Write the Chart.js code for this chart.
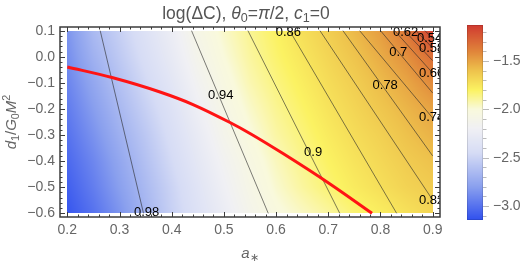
<!DOCTYPE html>
<html>
<head>
<meta charset="utf-8">
<script src="https://cdn.jsdelivr.net/npm/chart.js@4.4.1/dist/chart.umd.min.js"></script>
<style>
    html, body { margin: 0; padding: 0; background: #fff; }
    #wrap { position: relative; width: 529px; height: 264px; }
    #main { position: absolute; left: 0; top: 0; }
    #bar { position: absolute; left: 440px; top: 0; }
</style>
</head>
<body>
<div id="wrap">
    <canvas id="main" width="529" height="264"></canvas>
    <canvas id="bar" width="89" height="264"></canvas>
</div>
<script>
// ==========================
// DATA
// ==========================

const xTicks = [0.2, 0.3, 0.4, 0.5, 0.6, 0.7, 0.8, 0.9];
const yTicks = [0.1, 0.0, -0.1, -0.2, -0.3, -0.4, -0.5, -0.6];
const barTicks = [-3.0, -2.5, -2.0, -1.5];

// log(ΔC) sampled on a grid: columns are a*, rows are d1/G0M^2 from top to bottom
const gridA = [0.2, 0.25, 0.3, 0.35, 0.4, 0.45, 0.5, 0.55, 0.6, 0.65, 0.7, 0.75, 0.8, 0.85, 0.9];
const gridD = [0.1, 0.0, -0.1, -0.2, -0.3, -0.4, -0.5, -0.6];
const row01  = [-2.85, -2.65, -2.52, -2.38, -2.24, -2.08, -1.97, -1.88, -1.80, -1.72, -1.65, -1.57, -1.48, -1.35, -1.15];
const row00  = [-2.88, -2.70, -2.56, -2.42, -2.28, -2.12, -2.00, -1.90, -1.82, -1.75, -1.68, -1.61, -1.53, -1.44, -1.32];
const rowM01 = [-2.92, -2.76, -2.61, -2.47, -2.33, -2.17, -2.04, -1.93, -1.85, -1.78, -1.71, -1.65, -1.58, -1.51, -1.42];
const rowM02 = [-2.96, -2.81, -2.66, -2.52, -2.38, -2.22, -2.08, -1.97, -1.88, -1.81, -1.74, -1.68, -1.62, -1.56, -1.50];
const rowM03 = [-3.00, -2.86, -2.71, -2.57, -2.42, -2.27, -2.12, -2.01, -1.91, -1.84, -1.77, -1.71, -1.66, -1.60, -1.55];
const rowM04 = [-3.04, -2.91, -2.76, -2.61, -2.46, -2.31, -2.17, -2.05, -1.95, -1.87, -1.80, -1.74, -1.69, -1.64, -1.60];
const rowM05 = [-3.08, -2.95, -2.80, -2.65, -2.50, -2.35, -2.21, -2.08, -1.98, -1.90, -1.83, -1.77, -1.72, -1.67, -1.64];
const rowM06 = [-3.12, -3.00, -2.85, -2.68, -2.52, -2.38, -2.25, -2.12, -2.02, -1.96, -1.90, -1.83, -1.78, -1.73, -1.68];

// contour lines: where each one leaves the top edge, and where it ends (bottom or right edge)
const contourLevels = ["0.98", "0.94", "0.9", "0.86", "0.82", "0.78", "0.74", "0.7", "0.66", "0.62", "0.58", "0.54"];
const contourTopA = [0.263, 0.438, 0.546, 0.626, 0.684, 0.728, 0.760, 0.800, 0.827, 0.846, 0.868, 0.885];
const contourEndA = [0.346, 0.585, 0.722, 0.831, 0.9, 0.9, 0.9, 0.9, 0.9, 0.9, 0.9, 0.9];
const contourEndD = [-0.6, -0.6, -0.6, -0.6, -0.549, -0.38, -0.235, -0.139, -0.0625, -0.015, 0.033, 0.07];
const labelA = [0.352, 0.494, 0.671, 0.6235, 0.898, 0.809, 0.898, 0.834, 0.898, 0.848, 0.898, 0.894];
const labelD = [-0.595, -0.147, -0.365, 0.0946, -0.549, -0.108, -0.231, 0.018, -0.0625, 0.0946, 0.033, 0.0716];

// the red curve
const curveA = [0.2, 0.2856, 0.3776, 0.4408, 0.5117, 0.55, 0.6133, 0.7033, 0.7838];
const curveD = [-0.039, -0.0795, -0.135, -0.183, -0.252, -0.294, -0.371, -0.4875, -0.6];

const logDC = [row01, row00, rowM01, rowM02, rowM03, rowM04, rowM05, rowM06];

// ==========================
// STYLE
// ==========================

const fontFamily = "'Liberation Sans', Arial, sans-serif";
const axisGray = "#666";
const frameColor = "#3c3c3c";

// x/y ranges include Mathematica's small padding round the data
const xMin = 0.186, xMax = 0.914;
const yMin = -0.614, yMax = 0.114;
const barMin = -3.145, barMax = -1.128;

// colour scheme (blue -> white -> yellow -> orange -> red)
const cmapVals = [-3.145, -2.8, -2.45, -2.2, -2.0, -1.8, -1.6, -1.4, -1.128];
const cmapCols = ["#3050ee", "#8aa0ee", "#d6dcf5", "#f0f0f4", "#f9f9dc", "#fbf262", "#eec24c", "#e0843a", "#d03a30"];

function hexToRgb(h) {
    return [parseInt(h.slice(1, 3), 16), parseInt(h.slice(3, 5), 16), parseInt(h.slice(5, 7), 16)];
}
const cmapRgb = cmapCols.map(hexToRgb);

function colorFor(v) {
    if (v <= cmapVals[0]) return cmapRgb[0];
    for (let k = 1; k < cmapVals.length; k++) {
        if (v <= cmapVals[k]) {
            const t = (v - cmapVals[k - 1]) / (cmapVals[k] - cmapVals[k - 1]);
            const c0 = cmapRgb[k - 1], c1 = cmapRgb[k];
            return [c0[0] + (c1[0] - c0[0]) * t, c0[1] + (c1[1] - c0[1]) * t, c0[2] + (c1[2] - c0[2]) * t];
        }
    }
    return cmapRgb[cmapRgb.length - 1];
}

// shade between grid samples (like a density plot does)
function sampleField(a, d) {
    const nA = gridA.length, nD = gridD.length;
    const fi = Math.min(Math.max((a - gridA[0]) / (gridA[1] - gridA[0]), 0), nA - 1);
    const fj = Math.min(Math.max((gridD[0] - d) / (gridD[0] - gridD[1]), 0), nD - 1);
    const i0 = Math.min(Math.floor(fi), nA - 2);
    const j0 = Math.min(Math.floor(fj), nD - 2);
    const tx = fi - i0, ty = fj - j0;
    const top = logDC[j0][i0] * (1 - tx) + logDC[j0][i0 + 1] * tx;
    const bot = logDC[j0 + 1][i0] * (1 - tx) + logDC[j0 + 1][i0 + 1] * tx;
    return top * (1 - ty) + bot * ty;
}

function fmt(v) {
    return v.toFixed(1).replace("-", "\u2212");
}

function minorTicks(majors, lo, hi) {
    const step = (majors[1] - majors[0]) / 5;
    const out = [];
    for (let v = majors[0] - step; v >= lo - 1e-9; v -= step) out.push(v);
    for (let k = 0; k < majors.length - 1; k++) {
        for (let m = 1; m < 5; m++) out.push(majors[k] + (majors[k + 1] - majors[k]) * m / 5);
    }
    const last = majors[majors.length - 1];
    for (let v = last + step; v <= hi + 1e-9; v += step) out.push(v);
    return out;
}

// draws text pieces: {t, it (italic), pos: 'sub' | 'sup' | undefined}
function drawRich(ctx, parts, size, cx, baseline) {
    const fontOf = (p) => {
        const s = p.pos ? size * 0.72 : size;
        return (p.it ? "italic " : "") + s + "px " + fontFamily;
    };
    let total = 0;
    parts.forEach(p => { ctx.font = fontOf(p); total += ctx.measureText(p.t).width; });
    let x = cx - total / 2;
    ctx.textAlign = "left";
    ctx.textBaseline = "alphabetic";
    parts.forEach(p => {
        ctx.font = fontOf(p);
        let dy = 0;
        if (p.pos === "sub") dy = size * 0.22;
        if (p.pos === "sup") dy = -size * 0.38;
        ctx.fillText(p.t, x, baseline + dy);
        x += ctx.measureText(p.t).width;
    });
}

// ==========================
// PLUGINS
// ==========================

const densityPlugin = {
    id: "density",
    beforeDatasetsDraw(chart) {
        const { ctx, scales: { x, y } } = chart;
        const x0 = Math.round(x.getPixelForValue(gridA[0]));
        const x1 = Math.round(x.getPixelForValue(gridA[gridA.length - 1]));
        const y0 = Math.round(y.getPixelForValue(gridD[0]));
        const y1 = Math.round(y.getPixelForValue(gridD[gridD.length - 1]));
        const w = x1 - x0, h = y1 - y0;
        const off = document.createElement("canvas");
        off.width = w;
        off.height = h;
        const octx = off.getContext("2d");
        const img = octx.createImageData(w, h);
        for (let j = 0; j < h; j++) {
            const d = y.getValueForPixel(y0 + j + 0.5);
            for (let i = 0; i < w; i++) {
                const a = x.getValueForPixel(x0 + i + 0.5);
                const c = colorFor(sampleField(a, d));
                const p = (j * w + i) * 4;
                img.data[p] = c[0];
                img.data[p + 1] = c[1];
                img.data[p + 2] = c[2];
                img.data[p + 3] = 255;
            }
        }
        octx.putImageData(img, 0, 0);
        ctx.drawImage(off, x0, y0);
    },
    afterDatasetsDraw(chart) {
        // contour labels, clipped at the frame
        const { ctx, chartArea: ca, scales: { x, y } } = chart;
        ctx.save();
        ctx.beginPath();
        ctx.rect(ca.left, ca.top, ca.right - ca.left, ca.bottom - ca.top);
        ctx.clip();
        ctx.fillStyle = "#000";
        ctx.font = "13px " + fontFamily;
        ctx.textAlign = "center";
        ctx.textBaseline = "middle";
        contourLevels.forEach((lv, k) => {
            ctx.fillText(lv, x.getPixelForValue(labelA[k]), y.getPixelForValue(labelD[k]));
        });
        ctx.restore();
    }
};

const framePlugin = {
    id: "frame",
    afterDraw(chart) {
        const { ctx, chartArea: ca, scales: { x, y } } = chart;
        ctx.save();
        ctx.strokeStyle = frameColor;
        ctx.lineWidth = 1;
        const tick = (x1, y1, x2, y2) => {
            ctx.beginPath();
            ctx.moveTo(x1, y1);
            ctx.lineTo(x2, y2);
            ctx.stroke();
        };
        const xs = [[xTicks, 5], [minorTicks(xTicks, xMin, xMax), 2.5]];
        xs.forEach(([vals, len]) => vals.forEach(v => {
            const px = Math.round(x.getPixelForValue(v)) + 0.5;
            tick(px, ca.bottom, px, ca.bottom - len);
            tick(px, ca.top, px, ca.top + len);
        }));
        const ys = [[yTicks, 5], [minorTicks(yTicks.slice().reverse(), yMin, yMax), 2.5]];
        ys.forEach(([vals, len]) => vals.forEach(v => {
            const py = Math.round(y.getPixelForValue(v)) + 0.5;
            tick(ca.left, py, ca.left + len, py);
            tick(ca.right, py, ca.right - len, py);
        }));
        ctx.lineWidth = 1.5;
        ctx.strokeRect(ca.left, ca.top, ca.right - ca.left, ca.bottom - ca.top);
        ctx.restore();

        // title and axis labels
        ctx.save();
        ctx.fillStyle = "#555";
        drawRich(ctx, [
            { t: "log(\u0394C), " }, { t: "\u03b8", it: true }, { t: "0", pos: "sub" },
            { t: "=" }, { t: "\u03c0", it: true }, { t: "/2, " },
            { t: "c", it: true }, { t: "1", pos: "sub" }, { t: "=0" }
        ], 17.5, 246, 18.5);

        ctx.fillStyle = axisGray;
        drawRich(ctx, [{ t: "a", it: true }, { t: "\u2217", pos: "sub" }], 15, (ca.left + ca.right) / 2, 258);

        ctx.translate(16, (ca.top + ca.bottom) / 2);
        ctx.rotate(-Math.PI / 2);
        drawRich(ctx, [
            { t: "d", it: true }, { t: "1", pos: "sub" }, { t: "/" },
            { t: "G", it: true }, { t: "0", pos: "sub" },
            { t: "M", it: true }, { t: "2", pos: "sup" }
        ], 15, 0, 0);
        ctx.restore();
    }
};

const barPlugin = {
    id: "colorbar",
    beforeDatasetsDraw(chart) {
        const { ctx, chartArea: ca, scales: { y } } = chart;
        for (let py = Math.floor(ca.top); py < Math.ceil(ca.bottom); py++) {
            const c = colorFor(y.getValueForPixel(py + 0.5));
            ctx.fillStyle = `rgb(${Math.round(c[0])},${Math.round(c[1])},${Math.round(c[2])})`;
            ctx.fillRect(ca.left, py, ca.right - ca.left, 1);
        }
        ctx.save();
        ctx.strokeStyle = "rgba(0,0,0,0.12)";
        ctx.lineWidth = 1;
        ctx.strokeRect(ca.left + 0.5, ca.top + 0.5, ca.right - ca.left - 1, ca.bottom - ca.top - 1);
        ctx.strokeStyle = "#bbb";
        const ticks = [[barTicks, 6], [minorTicks(barTicks, barMin, barMax), 3.5]];
        ticks.forEach(([vals, len]) => vals.forEach(v => {
            const py = Math.round(y.getPixelForValue(v)) + 0.5;
            ctx.beginPath();
            ctx.moveTo(ca.right, py);
            ctx.lineTo(ca.right + len, py);
            ctx.stroke();
        }));
        ctx.restore();
    }
};

// ==========================
// MAIN CHART
// ==========================

const datasets = [{
    label: "curve",
    data: curveA.map((a, i) => ({ x: a, y: curveD[i] })),
    showLine: true,
    borderColor: "#ff1414",
    borderWidth: 3,
    pointRadius: 0,
    cubicInterpolationMode: "monotone",
    order: 0
}];

contourLevels.forEach((lv, k) => {
    datasets.push({
        label: lv,
        data: [{ x: contourTopA[k], y: gridD[0] }, { x: contourEndA[k], y: contourEndD[k] }],
        showLine: true,
        borderColor: "rgba(40,40,40,0.6)",
        borderWidth: 1,
        pointRadius: 0,
        order: 1
    });
});

new Chart(document.getElementById("main"), {
    type: "scatter",
    data: { datasets: datasets },
    options: {
        responsive: false,
        animation: false,
        layout: { padding: { left: 0, top: 27, right: 89, bottom: 0 } },
        plugins: {
            legend: { display: false },
            tooltip: { enabled: false }
        },
        scales: {
            x: {
                min: xMin,
                max: xMax,
                afterFit: s => { s.height = 47; },
                afterBuildTicks: s => { s.ticks = xTicks.map(v => ({ value: v })); },
                grid: { display: false, drawTicks: false },
                border: { display: false },
                ticks: {
                    padding: 5,
                    maxRotation: 0,
                    color: axisGray,
                    font: { family: fontFamily, size: 14 },
                    callback: v => fmt(v)
                }
            },
            y: {
                min: yMin,
                max: yMax,
                afterFit: s => { s.width = 60; },
                afterBuildTicks: s => { s.ticks = yTicks.map(v => ({ value: v })); },
                grid: { display: false, drawTicks: false },
                border: { display: false },
                ticks: {
                    padding: 5,
                    color: axisGray,
                    font: { family: fontFamily, size: 14 },
                    callback: v => fmt(v)
                }
            }
        }
    },
    plugins: [densityPlugin, framePlugin]
});

// ==========================
// COLOUR BAR
// ==========================

new Chart(document.getElementById("bar"), {
    type: "scatter",
    data: { datasets: [] },
    options: {
        responsive: false,
        animation: false,
        layout: { padding: { left: 27, top: 25, right: 0, bottom: 44 } },
        plugins: {
            legend: { display: false },
            tooltip: { enabled: false }
        },
        scales: {
            x: { display: false, min: 0, max: 1 },
            y: {
                position: "right",
                min: barMin,
                max: barMax,
                afterFit: s => { s.width = 46; },
                afterBuildTicks: s => { s.ticks = barTicks.map(v => ({ value: v })); },
                grid: { display: false, drawTicks: false },
                border: { display: false },
                ticks: {
                    padding: 10,
                    color: axisGray,
                    font: { family: fontFamily, size: 14 },
                    callback: v => fmt(v)
                }
            }
        }
    },
    plugins: [barPlugin]
});
</script>
</body>
</html>
